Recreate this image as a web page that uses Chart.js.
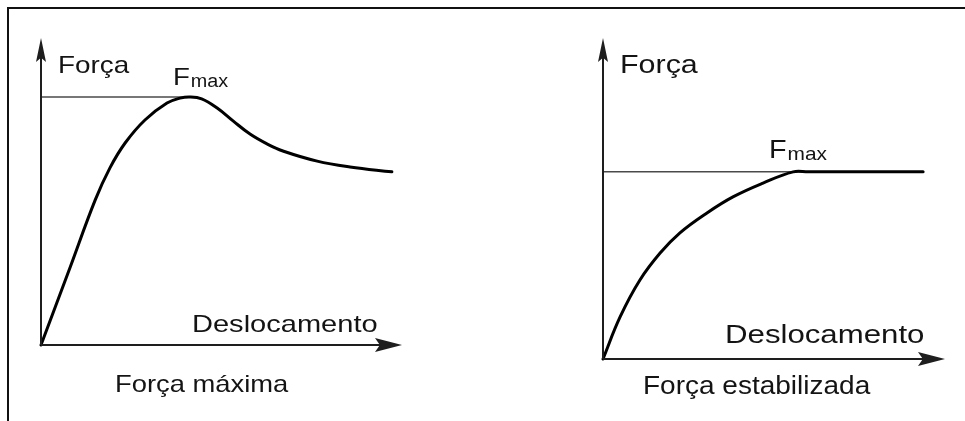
<!DOCTYPE html>
<html>
<head>
<meta charset="utf-8">
<script src="https://cdn.jsdelivr.net/npm/chart.js@4/dist/chart.umd.min.js"></script>
<style>
    html, body { margin: 0; padding: 0; background: #fff; }
    body { width: 965px; height: 421px; position: relative; overflow: hidden; }
    .frame { position: absolute; left: 7px; top: 7px; width: 958px; height: 414px;
             border-top: 2px solid #111; border-left: 2px solid #111; box-sizing: border-box; }
    .panel { position: absolute; top: 0; height: 421px; }
    #leftWrap { left: 0; width: 482px; }
    #rightWrap { left: 482px; width: 483px; }
</style>
</head>
<body>
<div class="frame"></div>
<div class="panel" id="leftWrap"><canvas id="leftChart"></canvas></div>
<div class="panel" id="rightWrap"><canvas id="rightChart"></canvas></div>
<script>
    // 왼쪽: 최대 하중 (Força máxima)
    const leftDesloc = [0, 0.80, 1.50, 1.91, 2.33, 2.88, 3.49, 3.85, 4.12, 4.45, 4.88, 5.32, 5.79, 6.26, 6.70, 7.65, 8.56, 9.72];
    const leftForca  = [0, 2.51, 4.72, 5.77, 6.58, 7.33, 7.88, 8.04, 8.08, 8.02, 7.72, 7.30, 6.87, 6.55, 6.32, 5.99, 5.80, 5.64];
    const leftFmax = 8.08;
    const leftFmaxEnd = 4.12;

    // 오른쪽: 안정화 하중 (Força estabilizada)
    const rightDesloc = [0, 0.50, 1.08, 1.67, 2.25, 3.04, 3.80, 4.68, 5.56, 6.00, 9.36];
    const rightForca  = [0, 1.31, 2.46, 3.30, 3.93, 4.55, 5.05, 5.48, 5.83, 5.83, 5.83];
    const rightFmax = 5.83;
    const rightFmaxEnd = 9.36;

    const axisMax = 10;
    const FONT = '"Liberation Sans", Arial, sans-serif';

    // 원본 글자가 가로로 약간 늘어나 있어서 stretch 로 맞춤
    function drawText(ctx, text, x, y, size, stretch) {
        ctx.save();
        ctx.font = size + 'px ' + FONT;
        ctx.translate(x, y);
        ctx.scale(stretch, 1);
        ctx.fillText(text, 0, 0);
        const w = ctx.measureText(text).width * stretch;
        ctx.restore();
        return w;
    }

    function arrowHead(ctx, tipX, tipY, dx, dy, len, half) {
        // dx, dy: 화살표 방향 단위 벡터
        const bx = tipX - dx * len, by = tipY - dy * len;
        const nx = -dy, ny = dx;
        const notch = len * 0.18;
        ctx.beginPath();
        ctx.moveTo(tipX, tipY);
        ctx.lineTo(bx + nx * half, by + ny * half);
        ctx.lineTo(bx + dx * notch, by + dy * notch);
        ctx.lineTo(bx - nx * half, by - ny * half);
        ctx.closePath();
        ctx.fill();
    }

    /** 축 + 화살표 + 라벨 */
    const diagramPlugin = {
        id: 'diagram',
        afterDatasetsDraw(chart, args, opts) {
            const ctx = chart.ctx;
            const xs = chart.scales.x, ys = chart.scales.y;
            const ox = xs.getPixelForValue(0), oy = ys.getPixelForValue(0);
            const tx = xs.getPixelForValue(axisMax), ty = ys.getPixelForValue(axisMax);

            ctx.save();
            ctx.strokeStyle = '#1e1e1e';
            ctx.fillStyle = '#1e1e1e';
            ctx.lineWidth = 2;
            ctx.beginPath();
            ctx.moveTo(ox, oy);
            ctx.lineTo(ox, ty + 10);
            ctx.moveTo(ox, oy);
            ctx.lineTo(tx - 10, oy);
            ctx.stroke();
            arrowHead(ctx, ox, ty, 0, -1, 24, 5);
            arrowHead(ctx, tx, oy, 1, 0, 27, 7);

            ctx.fillStyle = '#141414';
            ctx.textBaseline = 'alphabetic';
            ctx.textAlign = 'left';
            for (const lb of opts.labels) {
                drawText(ctx, lb.text, lb.x, lb.y, lb.size, lb.stretch);
            }
            const f = opts.fmax;
            const w = drawText(ctx, 'F', f.x, f.y, f.size, 1.15);
            drawText(ctx, 'max', f.x + w + 1, f.y + 2, f.subSize, 1.1);
            ctx.restore();
        }
    };

    function makeChart(canvasId, desloc, forca, fmax, fmaxEnd, padding, labels, fmaxLabel) {
        return new Chart(document.getElementById(canvasId), {
            type: 'scatter',
            data: {
                datasets: [
                    {
                        data: [{ x: 0, y: fmax }, { x: fmaxEnd, y: fmax }],
                        showLine: true,
                        borderColor: '#4a4a4a',
                        borderWidth: 1.5,
                        pointRadius: 0,
                        order: 2,
                    },
                    {
                        data: desloc.map((d, i) => ({ x: d, y: forca[i] })),
                        showLine: true,
                        borderColor: '#000',
                        borderWidth: 3,
                        pointRadius: 0,
                        tension: 0.4,
                        borderCapStyle: 'round',
                        borderJoinStyle: 'round',
                        order: 1,
                    },
                ],
            },
            options: {
                responsive: true,
                maintainAspectRatio: false,
                animation: false,
                clip: false,
                layout: { padding },
                plugins: {
                    legend: { display: false },
                    tooltip: { enabled: false },
                    diagram: { labels, fmax: fmaxLabel },
                },
                scales: {
                    x: { type: 'linear', min: 0, max: axisMax, display: false },
                    y: { type: 'linear', min: 0, max: axisMax, display: false },
                },
            },
            plugins: [diagramPlugin],
        });
    }

    makeChart('leftChart', leftDesloc, leftForca, leftFmax, leftFmaxEnd,
        { left: 41, right: 80, top: 38, bottom: 76 },
        [
            { text: 'Força', x: 58, y: 73, size: 24, stretch: 1.16 },
            { text: 'Deslocamento', x: 192, y: 332, size: 24, stretch: 1.21 },
            { text: 'Força máxima', x: 115, y: 392, size: 24, stretch: 1.14 },
        ],
        { x: 173, y: 85, size: 24, subSize: 18 });

    makeChart('rightChart', rightDesloc, rightForca, rightFmax, rightFmaxEnd,
        { left: 121, right: 20, top: 38, bottom: 62 },
        [
            { text: 'Força', x: 620 - 482, y: 73, size: 26, stretch: 1.17 },
            { text: 'Deslocamento', x: 725 - 482, y: 343, size: 26, stretch: 1.2 },
            { text: 'Força estabilizada', x: 643 - 482, y: 394, size: 25, stretch: 1.12 },
        ],
        { x: 769 - 482, y: 158, size: 25, subSize: 19 });
</script>
</body>
</html>
